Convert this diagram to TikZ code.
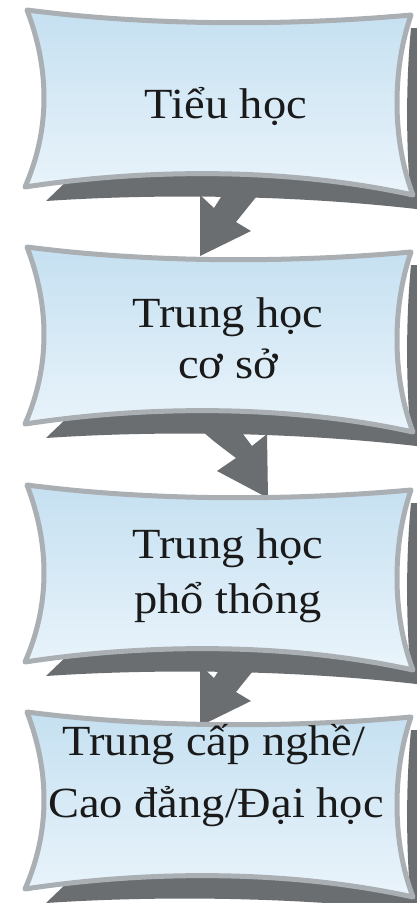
\documentclass[tikz,border=0pt]{standalone}
\usepackage{fontspec}
\setmainfont{Liberation Serif}[FakeStretch=1.08]
\definecolor{shadowgray}{HTML}{6B6E71}
\definecolor{bordergray}{HTML}{A9AFB3}
\definecolor{filltop}{HTML}{C5E0F1}
\definecolor{fillbot}{HTML}{EAF4FB}
\definecolor{textdark}{HTML}{1A1A1A}
\def\bannerpath{(27,10) .. controls (150,26) and (290,26) .. (411,15)
  .. controls (392,70) and (392,140) .. (413,195)
  .. controls (290,168) and (150,168) .. (25,187)
  .. controls (50,130) and (50,70) .. (27,10) -- cycle}
\def\shadowpath{(46,201) .. controls (150,194) and (290,194) .. (425,210)
  -- (425,28) -- (411,28) .. controls (406,80) and (406,140) .. (410,190)
  -- (300,165) -- (70,178) -- cycle}
\begin{document}
\begin{tikzpicture}[x=1pt,y=-1pt,
  shadowband/.style={fill=shadowgray},
  bannerbox/.style={top color=filltop,bottom color=fillbot,draw=bordergray,line width=5pt,line join=round},
  flowarrow/.style={fill=shadowgray},
  lbl/.style={anchor=base,inner sep=0pt,text=textdark,font=\fontsize{43}{50}\selectfont}]
\useasboundingbox (0,0) rectangle (417,903);
\clip (0,0) rectangle (417,903);
\fill[white] (0,0) rectangle (417,903);
% shadows
\foreach \s in {0,237,475,702}{
  \path[shadowband,shift={(0,\s)}] \shadowpath;
}
% arrows
\path[flowarrow] (228,186) -- (214,208) -- (200,195) -- (200,256) -- (251,231) -- (236,222) -- (265,186) -- cycle;
\path[flowarrow] (190,420) .. controls (212,440) .. (236,458) -- (217,471) -- (268,498) -- (267,434) -- (252,446) .. controls (243,434) .. (232,420) -- cycle;
\path[flowarrow] (228,656) -- (214,678) -- (200,665) -- (200,726) -- (251,701) -- (236,692) -- (265,656) -- cycle;
% boxes
\foreach \s in {0,237,475,702}{
  \path[bannerbox,shift={(0,\s)}] \bannerpath;
}
% labels
\node[lbl] (t1) at (226,118) {Tiểu học};
\node[lbl] (t2a) at (228,327) {Trung học};
\node[lbl] (t2b) at (228,378) {cơ sở};
\node[lbl] (t3a) at (228,558) {Trung học};
\node[lbl] (t3b) at (228,613) {phổ thông};
\node[lbl] (t4a) at (214,755) {Trung cấp nghề/};
\node[lbl] (t4b) at (216,817) {Cao đẳng/Đại học};
\end{tikzpicture}
\end{document}
